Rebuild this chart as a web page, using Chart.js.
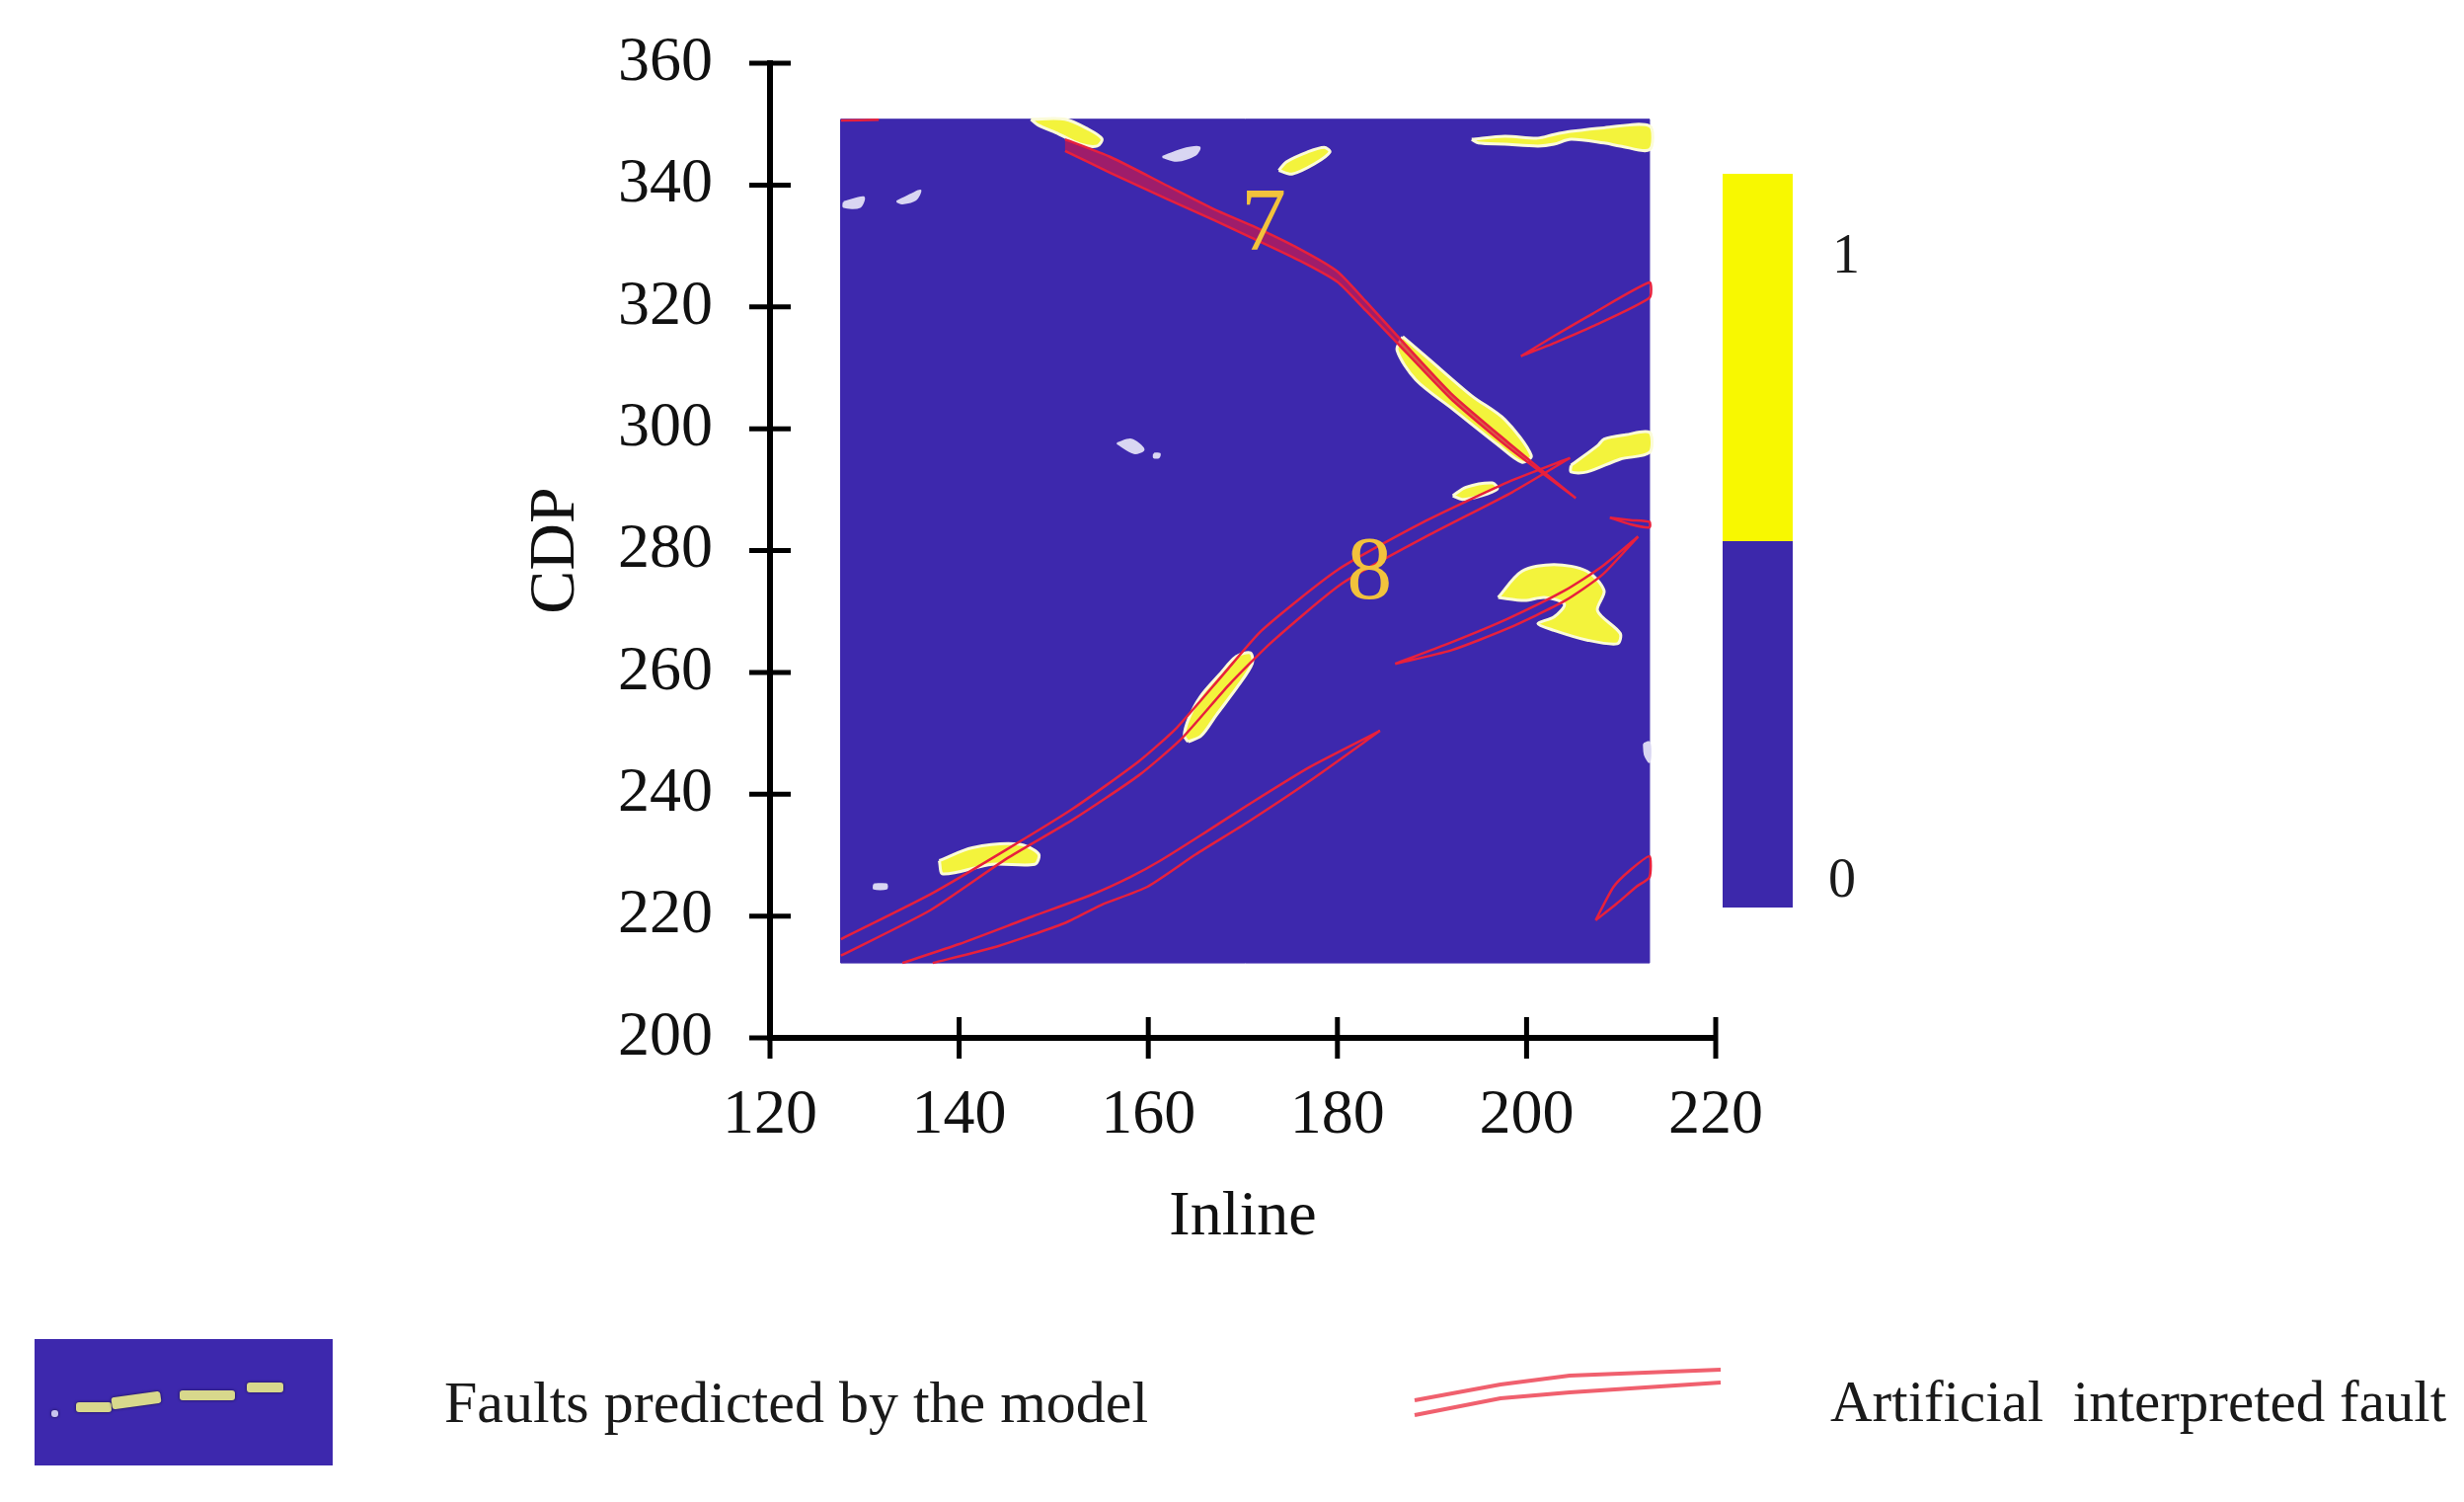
<!DOCTYPE html>
<html>
<head>
<meta charset="utf-8">
<title>Faults predicted vs interpreted</title>
<script src="https://cdn.jsdelivr.net/npm/chart.js@4.4.1/dist/chart.umd.min.js"></script>
<style>
  html, body { margin: 0; padding: 0; background: #fff; }
  #wrap { position: relative; width: 2496px; height: 1521px; overflow: hidden;
          font-family: "Liberation Serif", "Times New Roman", serif; }
  #chart { position: absolute; left: 0; top: 0; }
  .cbar { position: absolute; left: 1745px; width: 71px; }
  .txt { position: absolute; color: #1a1a1a; white-space: pre; line-height: 1; }
  .dash { position: absolute; background: #d8d88c; border-radius: 3px; box-shadow: 0 0 3px #1a1040; }
</style>
</head>
<body>
<div id="wrap">
  <canvas id="chart" width="2496" height="1521"></canvas>

  <!-- colour bar -->
  <div class="cbar" style="top:176px;height:372px;background:#f8f800"></div>
  <div class="cbar" style="top:548px;height:371px;background:#3c28ab"></div>
  <div class="txt" id="cbTop" style="left:1842px;top:229px;width:56px;text-align:center;font-size:56px"></div>
  <div class="txt" id="cbBottom" style="left:1838px;top:861px;width:56px;text-align:center;font-size:56px"></div>

  <!-- legend -->
  <div style="position:absolute;left:35px;top:1356px;width:302px;height:128px;background:#3d28ad">
    <div class="dash" style="left:17px;top:72px;width:7px;height:7px;background:#c8c4ee"></div>
    <div class="dash" style="left:42px;top:64px;width:36px;height:10px"></div>
    <div class="dash" style="left:78px;top:56px;width:50px;height:12px;transform:rotate(-8deg)"></div>
    <div class="dash" style="left:147px;top:52px;width:56px;height:10px"></div>
    <div class="dash" style="left:215px;top:44px;width:37px;height:10px"></div>
  </div>
  <div class="txt" id="leg1" style="left:450px;top:1390px;font-size:60px"></div>
  <svg style="position:absolute;left:1420px;top:1375px" width="340" height="70">
    <polyline points="13,43 100,27 170,18 323,12" fill="none" stroke="#f0606e" stroke-width="4"/>
    <polyline points="13,58 100,41 170,35 323,25" fill="none" stroke="#f0606e" stroke-width="4"/>
  </svg>
  <div class="txt" id="leg2" style="left:1854px;top:1390px;font-size:59px"></div>
</div>

<script>
(() => {
  // ---------- axes ----------
  const X_TICKS = [120, 140, 160, 180, 200, 220];
  const Y_TICKS = [200, 220, 240, 260, 280, 300, 320, 340, 360];
  const X_TITLE = 'Inline';
  const Y_TITLE = 'CDP';

  // extent of the predicted-fault section (Inline, CDP)
  const SECTION_INLINE = [127.5, 213];
  const SECTION_CDP = [212.3, 350.8];

  const COLORBAR_LABELS = ['1', '0'];
  const LEGEND_LABELS = ['Faults predicted by the model', 'Artificial  interpreted fault'];

  // fault numbers written on the section
  const FAULT_LABEL_TEXT = ['7', '8'];
  const FAULT_LABEL_INLINE = [172.2, 183.4];
  const FAULT_LABEL_CDP = [333.3, 276.1];

  // ---------- predicted faults (yellow) [inline, cdp] ----------
  const BLOB_TOP = [[147.6,350.8],[151.2,350.8],[153.6,349.2],[155.1,347.6],[154.6,346.4],[152.8,346.7],[150.5,348.4],[148.3,349.9]];
  const BLOB_TOP_MID = [[173.8,342.4],[175.2,341.8],[177.6,343.5],[179.2,345.4],[178.6,346.2],[176.8,345.4],[174.6,343.8]];
  const BLOB_TOP_RIGHT = [[194.2,347.5],[197.7,348.0],[201.2,347.7],[202.9,348.3],[204.7,348.8],[208.2,349.4],[213,349.7],
                          [213,345.8],[209.9,346.4],[208.2,346.9],[204.7,347.5],[202.9,346.7],[201.2,346.4],[197.7,346.7],[194.9,346.9]];
  const BLOB_FAULT7 = [[186.9,315.1],[189.4,311.8],[194.2,305.4],[197.7,301.5],[200.5,295.6],[199.5,294.5],[197.0,297.3],[192.2,303.2],[188.3,308.0],[186.3,312.9]];
  const BLOB_RIGHT_MID = [[204.7,294.0],[207.5,297.2],[208.2,298.3],[210.5,299.0],[213,299.4],[213,296.1],[209.9,295.0],[206.4,292.9],[204.7,292.9]];
  const BLOB_SMALL_MID = [[192.2,289.0],[193.6,290.4],[196.4,291.1],[196.9,290.1],[195.2,289.0],[193.2,288.4]];
  const BLOB_RIGHT_BIG = [[197.0,272.3],[199.5,276.6],[202.9,277.7],[206.4,276.6],[208.2,273.4],[207.5,270.1],[209.9,266.4],[209.6,264.7],
                          [206.4,265.3],[202.9,266.9],[201.2,268.0],[202.9,269.1],[204.0,271.2],[201.9,272.3],[199.8,271.8]];
  const BLOB_FAULT8 = [[164.2,248.6],[165.6,249.6],[167.2,253.0],[169.6,258.0],[171.0,261.5],[170.8,263.2],[169.3,262.6],[167.5,259.6],[165.5,256.0],[164.3,252.5],[163.8,249.6]];
  const BLOB_BOTTOM_LEFT = [[137.9,229.1],[141.4,231.2],[146.3,231.8],[148.4,230.2],[148.0,228.5],[143.5,228.5],[138.3,226.9]];

  // weak responses (pale)
  const PALE_A = [[161.5,344.6],[163.5,345.8],[165.4,346.2],[165.0,345.0],[163.0,344.0]];
  const PALE_B = [[127.8,337.2],[129.9,338.0],[129.5,336.4],[127.8,336.4]];
  const PALE_C = [[133.4,337.3],[135.0,338.5],[135.9,339.1],[135.4,337.6],[134.0,337.0]];
  const PALE_D = [[156.7,297.6],[158.2,298.2],[159.5,296.6],[158.5,296.0]];
  const PALE_E = [[160.6,295.9],[161.2,295.9],[161.1,295.3],[160.6,295.3]];
  const PALE_F = [[131.0,225.2],[132.3,225.2],[132.3,224.5],[131.0,224.5]];
  const PALE_G = [[212.4,248.3],[213,248.5],[213,245.3],[212.5,246.5]];

  // ---------- interpreted faults (red outlines) ----------
  const FAULT7_UPPER = [[151.2,347.5],[156,344.6],[162,339.9],[167,336.0],[171,333.3],[176,329.5],[180,325.8],[183,320.9],[186,315.8],[192,305.8],[198,297.8],[205.2,288.6]];
  const FAULT7_LOWER = [[205.2,288.6],[198,297.0],[192,304.9],[186,314.6],[183,319.4],[180,324.1],[176,327.6],[171,331.3],[167,334.2],[162,337.7],[156,342.0],[151.2,345.6]];
  const FAULT8_UPPER = [[127.5,216.2],[137,223.6],[145,230.9],[152,237.6],[159,245.4],[163,250.9],[168,259.8],[172,266.9],[180,276.8],[189,284.6],[198,291.2],[204.6,295.2]];
  const FAULT8_LOWER = [[204.6,295.2],[198.5,289.6],[189.5,282.4],[180.5,274.6],[173,264.9],[168.5,257.9],[163.5,249.1],[159,243.1],[152,235.8],[145,229.4],[137,221.0],[127.5,213.5]];
  const FAULT_A_UPPER = [[199.4,311.9],[203,315.3],[207,318.9],[213,324.0]];
  const FAULT_A_LOWER = [[213,321.5],[207,316.8],[203,314.1],[199.4,311.9]];
  const FAULT_B_UPPER = [[208.8,285.4],[211,285.0],[213,284.7]];
  const FAULT_B_LOWER = [[213,283.8],[211,284.3],[208.8,285.4]];
  const FAULT_C_UPPER = [[186.1,261.4],[192,264.9],[198,268.8],[204,273.4],[208,277.4],[211.8,282.3]];
  const FAULT_C_LOWER = [[211.8,282.3],[208,276.0],[204,271.7],[198,267.2],[192,263.6],[186.1,261.4]];
  const FAULT_D_UPPER = [[134.0,212.3],[140,215.4],[147.7,219.9],[154,223.5],[158.1,226.4],[161.5,229.3],[166,233.7],[170.6,238.3],[177,244.4],[184.5,250.4]];
  const FAULT_D_LOWER = [[184.5,250.4],[177,242.1],[170.6,235.5],[165,230.1],[159.9,224.8],[155,221.8],[151.1,218.8],[144,215.0],[137.2,212.3]];
  const FAULT_E_UPPER = [[207.3,219.3],[209.2,224.8],[211,227.6],[213,229.8]];
  const FAULT_E_LOWER = [[213,226.4],[211.6,224.8],[209.5,222.0],[207.3,219.3]];
  const FAULT_CORNER = [[127.5,350.6],[131.5,350.7]];

  // ---------- styles ----------
  const FONT = '"Liberation Serif", "Times New Roman", serif';
  const BLUE = '#3d28ad';
  const YELLOW = '#f3f33c';
  const YELLOW_EDGE = '#fbfbd8';
  const PALE = '#d9d6f2';
  const RED = '#e8203c';
  const TICK_HALF = 21;

  document.getElementById('cbTop').innerText = COLORBAR_LABELS[0];
  document.getElementById('cbBottom').innerText = COLORBAR_LABELS[1];
  document.getElementById('leg1').textContent = LEGEND_LABELS[0];
  document.getElementById('leg2').textContent = LEGEND_LABELS[1];

  const pts = arr => arr.map(([x, y]) => ({ x, y }));
  const closed = arr => pts(arr.concat([arr[0]]));

  function areaSet(points, color, edge, edgeWidth, order, tension) {
    return {
      data: points, showLine: true, fill: 'shape', backgroundColor: color,
      borderColor: edge, borderWidth: edgeWidth, pointRadius: 0, tension: tension || 0, order
    };
  }
  function faultSet(points, fillColor) {
    return {
      data: points, showLine: true, fill: fillColor ? 'shape' : false,
      backgroundColor: fillColor || 'transparent', borderColor: RED, borderWidth: 2.5,
      pointRadius: 0, tension: 0.2, order: 10
    };
  }

  const [x0, x1] = SECTION_INLINE;
  const [y0, y1] = SECTION_CDP;
  const datasets = [
    areaSet(closed([[x0, y0], [x1, y0], [x1, y1], [x0, y1]]), BLUE, BLUE, 1, 100, 0)
  ];
  [PALE_A, PALE_B, PALE_C, PALE_D, PALE_E, PALE_F, PALE_G].forEach(b => {
    datasets.push(areaSet(closed(b), PALE, PALE, 2, 50, 0.3));
  });
  [BLOB_TOP, BLOB_TOP_MID, BLOB_TOP_RIGHT, BLOB_FAULT7, BLOB_RIGHT_MID, BLOB_SMALL_MID,
   BLOB_RIGHT_BIG, BLOB_FAULT8, BLOB_BOTTOM_LEFT].forEach(b => {
    datasets.push(areaSet(closed(b), YELLOW, YELLOW_EDGE, 3, 40, 0.3));
  });
  datasets.push(faultSet(pts(FAULT7_UPPER.concat(FAULT7_LOWER)), 'rgba(205,25,75,0.68)'));
  datasets.push(faultSet(pts(FAULT8_UPPER.concat(FAULT8_LOWER))));
  datasets.push(faultSet(pts(FAULT_A_UPPER.concat(FAULT_A_LOWER))));
  datasets.push(faultSet(pts(FAULT_B_UPPER.concat(FAULT_B_LOWER))));
  datasets.push(faultSet(pts(FAULT_C_UPPER.concat(FAULT_C_LOWER))));
  datasets.push(faultSet(pts(FAULT_D_UPPER.concat(FAULT_D_LOWER))));
  datasets.push(faultSet(pts(FAULT_E_UPPER.concat(FAULT_E_LOWER))));
  datasets.push(faultSet(pts(FAULT_CORNER)));

  // ticks that cross the axis lines
  const crossTicks = {
    id: 'crossTicks',
    afterDraw(chart) {
      const { ctx, scales: { x, y } } = chart;
      const ax = x.getPixelForValue(X_TICKS[0]);
      const ay = y.getPixelForValue(Y_TICKS[0]);
      ctx.save();
      ctx.strokeStyle = '#000';
      ctx.lineWidth = 5;
      Y_TICKS.forEach(v => {
        const py = y.getPixelForValue(v);
        ctx.beginPath(); ctx.moveTo(ax - TICK_HALF, py); ctx.lineTo(ax + TICK_HALF, py); ctx.stroke();
      });
      X_TICKS.forEach(v => {
        const px = x.getPixelForValue(v);
        ctx.beginPath(); ctx.moveTo(px, ay - TICK_HALF); ctx.lineTo(px, ay + TICK_HALF); ctx.stroke();
      });
      ctx.restore();
    }
  };

  // fault numbers
  const faultNumbers = {
    id: 'faultNumbers',
    afterDatasetsDraw(chart) {
      const { ctx, scales: { x, y } } = chart;
      ctx.save();
      ctx.font = '92px ' + FONT;
      ctx.fillStyle = '#f2c23c';
      ctx.textAlign = 'center';
      ctx.textBaseline = 'middle';
      FAULT_LABEL_TEXT.forEach((t, i) => {
        ctx.fillText(t, x.getPixelForValue(FAULT_LABEL_INLINE[i]), y.getPixelForValue(FAULT_LABEL_CDP[i]));
      });
      ctx.restore();
    }
  };

  new Chart(document.getElementById('chart'), {
    type: 'scatter',
    data: { datasets },
    options: {
      responsive: false,
      devicePixelRatio: 1,
      animation: false,
      events: [],
      layout: { padding: { left: 524, right: 758, top: 64, bottom: 249 } },
      plugins: { legend: { display: false }, tooltip: { enabled: false } },
      scales: {
        x: {
          type: 'linear', min: X_TICKS[0], max: X_TICKS[X_TICKS.length - 1],
          afterBuildTicks: s => { s.ticks = X_TICKS.map(v => ({ value: v })); },
          afterFit: s => { s.height = 221; s.paddingLeft = 0; s.paddingRight = 0; },
          grid: { display: false, drawTicks: false },
          border: { display: true, color: '#000', width: 6 },
          ticks: { color: '#111', padding: 41, maxRotation: 0, font: { family: FONT, size: 64 } },
          title: { display: true, text: X_TITLE, color: '#111', padding: 0, font: { family: FONT, size: 64 } }
        },
        y: {
          type: 'linear', min: Y_TICKS[0], max: Y_TICKS[Y_TICKS.length - 1],
          afterBuildTicks: s => { s.ticks = Y_TICKS.map(v => ({ value: v })); },
          afterFit: s => { s.width = 256; s.paddingTop = 0; s.paddingBottom = 0; },
          grid: { display: false, drawTicks: false },
          border: { display: true, color: '#000', width: 6 },
          ticks: { color: '#111', padding: 58, font: { family: FONT, size: 64 } },
          title: { display: true, text: Y_TITLE, color: '#111', padding: 0, font: { family: FONT, size: 66 } }
        }
      }
    },
    plugins: [crossTicks, faultNumbers]
  });
})();
</script>
</body>
</html>
